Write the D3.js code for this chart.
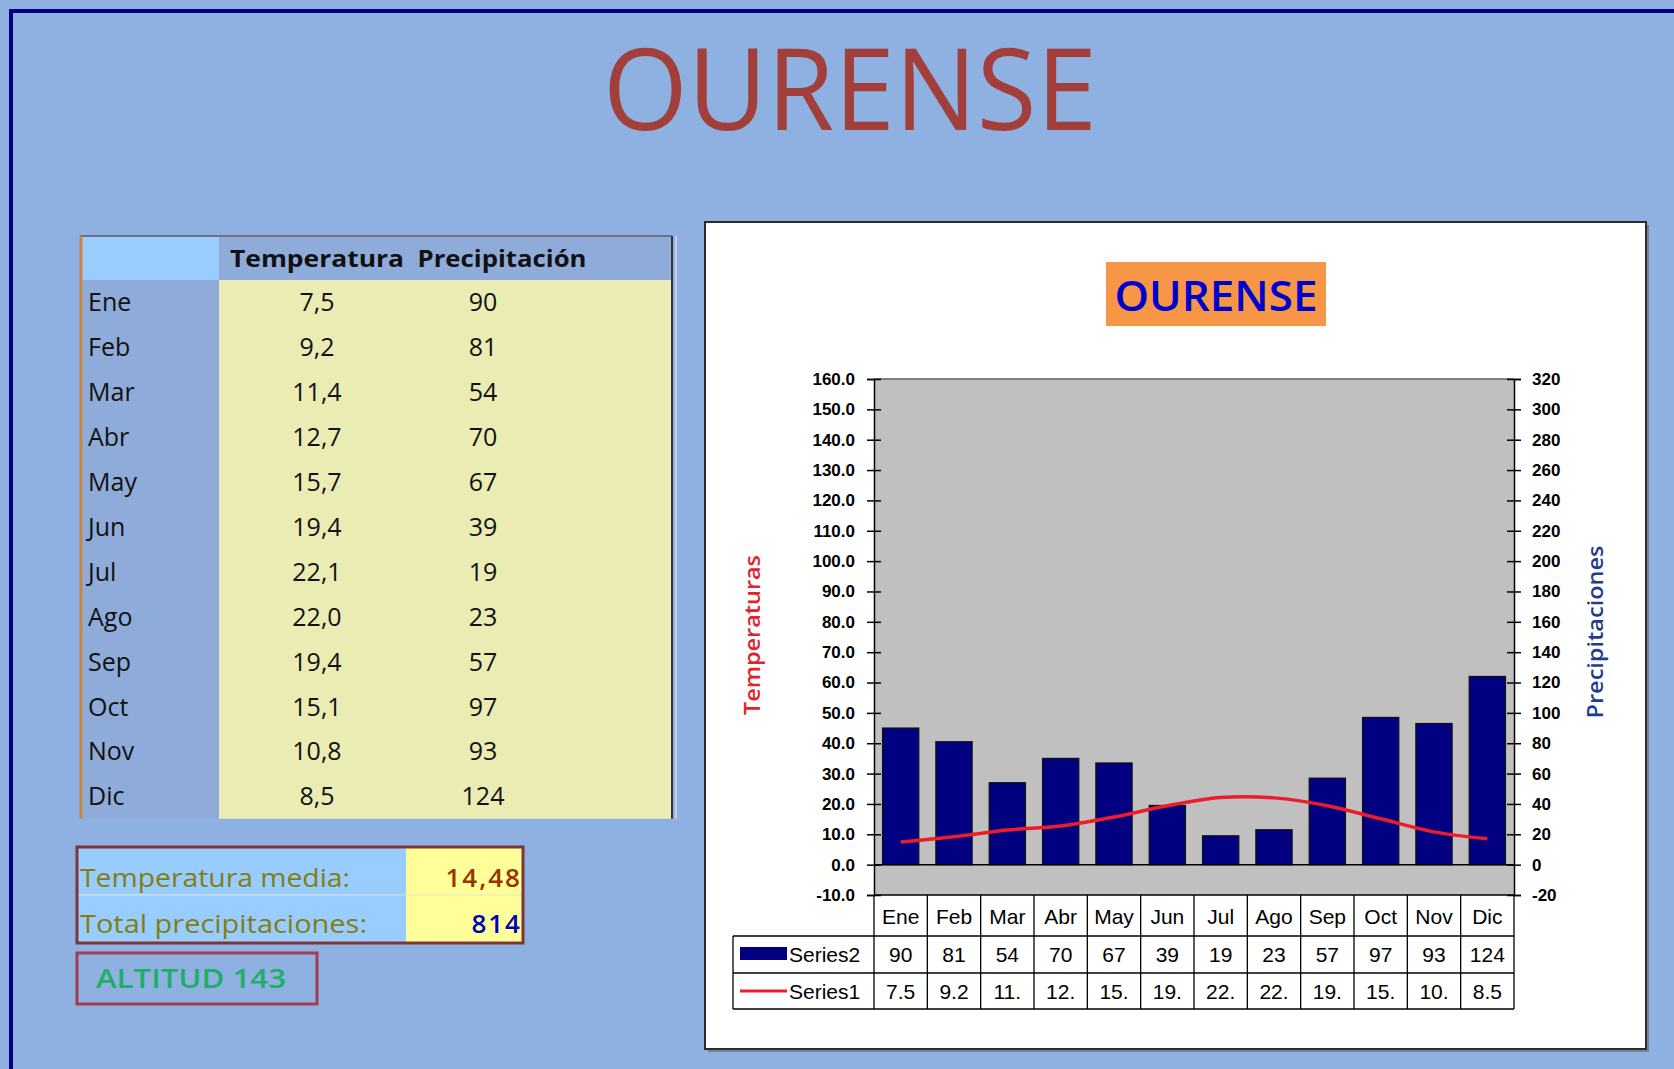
<!DOCTYPE html>
<html>
<head>
<meta charset="utf-8">
<script src="https://cdn.jsdelivr.net/npm/d3@7"></script>
<style>
  body { margin: 0; background: #8eb1e1; }
  svg { display: block; }
</style>
</head>
<body>
<svg id="chart" width="1674" height="1069"></svg>
<script>
// datos climáticos de Ourense
const ciudad = 'OURENSE';
const months = ['Ene', 'Feb', 'Mar', 'Abr', 'May', 'Jun', 'Jul', 'Ago', 'Sep', 'Oct', 'Nov', 'Dic'];
const temperaturas = [7.5, 9.2, 11.4, 12.7, 15.7, 19.4, 22.1, 22.0, 19.4, 15.1, 10.8, 8.5];
const precipitaciones = [90, 81, 54, 70, 67, 39, 19, 23, 57, 97, 93, 124];
const tempTicks = [-10, 0, 10, 20, 30, 40, 50, 60, 70, 80, 90, 100, 110, 120, 130, 140, 150, 160];
const precTicks = [-20, 0, 20, 40, 60, 80, 100, 120, 140, 160, 180, 200, 220, 240, 260, 280, 300, 320];
const altitud = 143;

const comic = '"Open Sans", "Noto Sans", sans-serif';
const arial = '"Liberation Sans", Arial, sans-serif';

class ClimateSheet {

    constructor(svg) {
        this.svg = svg;
    }

    drawPage() {
        this.svg.append('rect')
            .attr('width', 1674).attr('height', 1069)
            .attr('fill', '#8eb1e1');

        this.svg.append('path')
            .attr('d', 'M11,1069 V11 H1674')
            .attr('fill', 'none')
            .attr('stroke', '#000080')
            .attr('stroke-width', 4);

        this.svg.append('text')
            .text(ciudad)
            .attr('x', 850).attr('y', 130)
            .attr('text-anchor', 'middle')
            .attr('font-family', comic)
            .attr('font-size', 114)
            .attr('textLength', 494)
            .attr('lengthAdjust', 'spacingAndGlyphs')
            .attr('fill', '#a23f3a');
    }

    drawTable() {
        let g = this.svg.append('g');
        let x0 = 80, xMonth = 219, x1 = 672;
        let yTop = 236, yHead = 280, rowH = 44.9;
        let yRow = d3.scaleBand().domain(months).range([yHead, yHead + rowH * months.length]);

        g.append('rect').attr('x', x0).attr('y', yTop).attr('width', xMonth - x0).attr('height', yHead - yTop).attr('fill', '#99ccff');
        g.append('rect').attr('x', xMonth).attr('y', yTop).attr('width', x1 - xMonth).attr('height', yHead - yTop).attr('fill', '#8eabd9');
        g.append('rect').attr('x', x0).attr('y', yHead).attr('width', xMonth - x0).attr('height', yRow.range()[1] - yHead).attr('fill', '#8eabd9');
        g.append('rect').attr('x', xMonth).attr('y', yHead).attr('width', x1 - xMonth).attr('height', yRow.range()[1] - yHead).attr('fill', '#ebebb4');

        g.append('line').attr('x1', x0).attr('x2', x1).attr('y1', yTop).attr('y2', yTop).attr('stroke', '#6d7280').attr('stroke-width', 2);
        g.append('line').attr('x1', x0 + 1).attr('x2', x0 + 1).attr('y1', yTop).attr('y2', yRow.range()[1]).attr('stroke', '#c8873c').attr('stroke-width', 3);
        g.append('line').attr('x1', x1).attr('x2', x1).attr('y1', yTop).attr('y2', yRow.range()[1]).attr('stroke', '#333').attr('stroke-width', 2);
        g.append('line').attr('x1', x1 + 4).attr('x2', x1 + 4).attr('y1', yTop).attr('y2', yRow.range()[1]).attr('stroke', '#d8dce4').attr('stroke-width', 1.5);

        g.append('text').text('Temperatura')
            .attr('x', 317).attr('y', 267).attr('text-anchor', 'middle')
            .attr('font-family', comic).attr('font-weight', 'bold').attr('font-size', 24)
            .attr('textLength', 174).attr('lengthAdjust', 'spacingAndGlyphs').attr('fill', '#111');
        g.append('text').text('Precipitación')
            .attr('x', 502).attr('y', 267).attr('text-anchor', 'middle')
            .attr('font-family', comic).attr('font-weight', 'bold').attr('font-size', 24)
            .attr('textLength', 169).attr('lengthAdjust', 'spacingAndGlyphs').attr('fill', '#111');

        let rows = g.selectAll('.row').data(months).enter().append('g')
            .attr('transform', d => `translate(0,${yRow(d) + yRow.bandwidth() / 2 + 9})`);
        rows.append('text').text(d => d)
            .attr('x', 88)
            .attr('font-family', comic).attr('font-size', 25).attr('font-weight', 500).attr('fill', '#111');
        rows.append('text').text((d, i) => temperaturas[i].toFixed(1).replace('.', ','))
            .attr('x', 317).attr('text-anchor', 'middle')
            .attr('font-family', comic).attr('font-size', 25).attr('font-weight', 500).attr('fill', '#111');
        rows.append('text').text((d, i) => precipitaciones[i])
            .attr('x', 483).attr('text-anchor', 'middle')
            .attr('font-family', comic).attr('font-size', 25).attr('font-weight', 500).attr('fill', '#111');
    }

    drawSummary() {
        let g = this.svg.append('g');
        let media = d3.mean(temperaturas);
        let total = d3.sum(precipitaciones);

        g.append('rect').attr('x', 77).attr('y', 847).attr('width', 329).attr('height', 96).attr('fill', '#99ccff');
        g.append('rect').attr('x', 406).attr('y', 847).attr('width', 117).attr('height', 96).attr('fill', '#ffff99');
        g.append('line').attr('x1', 77).attr('x2', 523).attr('y1', 895).attr('y2', 895).attr('stroke', '#e6e6c8').attr('stroke-width', 1);
        g.append('rect').attr('x', 77).attr('y', 847).attr('width', 446).attr('height', 96)
            .attr('fill', 'none').attr('stroke', '#7f3535').attr('stroke-width', 3);

        g.append('text').text('Temperatura media:')
            .attr('x', 80).attr('y', 887)
            .attr('font-family', comic).attr('font-size', 26).attr('font-weight', 500)
            .attr('textLength', 270).attr('lengthAdjust', 'spacingAndGlyphs').attr('fill', '#7f7f12');
        g.append('text').text('Total precipitaciones:')
            .attr('x', 80).attr('y', 933)
            .attr('font-family', comic).attr('font-size', 26).attr('font-weight', 500)
            .attr('textLength', 287).attr('lengthAdjust', 'spacingAndGlyphs').attr('fill', '#7f7f12');
        g.append('text').text(media.toFixed(2).replace('.', ','))
            .attr('x', 522).attr('y', 887).attr('text-anchor', 'end')
            .attr('font-family', comic).attr('font-size', 26).attr('font-weight', 600).attr('letter-spacing', 2).attr('fill', '#993300');
        g.append('text').text(total)
            .attr('x', 522).attr('y', 933).attr('text-anchor', 'end')
            .attr('font-family', comic).attr('font-size', 26).attr('font-weight', 600).attr('letter-spacing', 2).attr('fill', '#0000bb');

        g.append('rect').attr('x', 77).attr('y', 953).attr('width', 240).attr('height', 51)
            .attr('fill', 'none').attr('stroke', '#a23c50').attr('stroke-width', 3);
        g.append('text').text('ALTITUD ' + altitud)
            .attr('x', 96).attr('y', 988)
            .attr('font-family', comic).attr('font-size', 27).attr('font-weight', 600)
            .attr('textLength', 190).attr('lengthAdjust', 'spacingAndGlyphs').attr('fill', '#1fae6a');
    }

    drawChart() {
        let svg = this.svg;
        let left = 874, right = 1514, top = 379, bottom = 895;

        svg.append('rect').attr('x', 708).attr('y', 225).attr('width', 941).attr('height', 827).attr('fill', '#555').attr('opacity', 0.5);
        svg.append('rect').attr('x', 705).attr('y', 222).attr('width', 941).attr('height', 827)
            .attr('fill', '#ffffff').attr('stroke', '#2b2b2b').attr('stroke-width', 2);

        svg.append('rect').attr('x', 1106).attr('y', 262).attr('width', 220).attr('height', 64).attr('fill', '#f79646');
        svg.append('text').text(ciudad)
            .attr('x', 1216).attr('y', 311).attr('text-anchor', 'middle')
            .attr('font-family', comic).attr('font-size', 42).attr('font-weight', 600)
            .attr('textLength', 203).attr('lengthAdjust', 'spacingAndGlyphs').attr('fill', '#0000cc');

        let x = d3.scaleBand().domain(months).range([left, right]).paddingInner(0.32).paddingOuter(0.16);
        let xCell = d3.scaleBand().domain(months).range([left, right]);
        let yT = d3.scaleLinear().domain([-10, 160]).range([bottom, top]);
        let yP = d3.scaleLinear().domain([-20, 320]).range([bottom, top]);

        svg.append('rect').attr('x', left).attr('y', top).attr('width', right - left).attr('height', bottom - top).attr('fill', '#c0c0c0');
        svg.append('line').attr('x1', left).attr('x2', right).attr('y1', top).attr('y2', top).attr('stroke', '#808080').attr('stroke-width', 2);

        svg.append('g').selectAll('rect').data(precipitaciones).enter().append('rect')
            .attr('x', (d, i) => x(months[i]))
            .attr('width', x.bandwidth())
            .attr('y', d => yP(d))
            .attr('height', d => yP(0) - yP(d))
            .attr('fill', '#000080')
            .attr('stroke', '#111')
            .attr('stroke-width', 1.2);

        svg.append('line').attr('x1', left).attr('x2', right).attr('y1', yT(0)).attr('y2', yT(0)).attr('stroke', '#000').attr('stroke-width', 1.5);

        let line = d3.line()
            .x((d, i) => x(months[i]) + x.bandwidth() / 2)
            .y(d => yT(d))
            .curve(d3.curveCatmullRom.alpha(0.5));
        svg.append('path').datum(temperaturas)
            .attr('d', line)
            .attr('fill', 'none')
            .attr('stroke', '#ee1c2a')
            .attr('stroke-width', 3.5);

        // excel style hyphen instead of unicode minus
        let fmtT = d => d3.format('.1f')(d).replace('\u2212', '-');
        let fmtP = d => d3.format('d')(d).replace('\u2212', '-');

        let axisL = svg.append('g').attr('transform', `translate(${left},0)`)
            .call(d3.axisLeft(yT).tickValues(tempTicks).tickFormat(fmtT).tickSize(7).tickPadding(12));
        let axisR = svg.append('g').attr('transform', `translate(${right},0)`)
            .call(d3.axisRight(yP).tickValues(precTicks).tickFormat(fmtP).tickSize(7).tickPadding(11));
        [axisL, axisR].forEach(a => {
            a.select('.domain').attr('stroke', '#000').attr('stroke-width', 1.5);
            a.selectAll('.tick line').attr('x1', -7).attr('x2', 7).attr('stroke', '#000').attr('stroke-width', 1.5);
            a.selectAll('.tick text')
                .attr('font-family', arial).attr('font-size', 17).attr('font-weight', 'bold').attr('fill', '#000');
        });

        svg.append('text').text('Temperaturas')
            .attr('transform', 'translate(760,635) rotate(-90)')
            .attr('text-anchor', 'middle')
            .attr('font-family', comic).attr('font-size', 22).attr('font-weight', 600)
            .attr('textLength', 160).attr('lengthAdjust', 'spacingAndGlyphs').attr('fill', '#e3232b');
        svg.append('text').text('Precipitaciones')
            .attr('transform', 'translate(1603,632) rotate(-90)')
            .attr('text-anchor', 'middle')
            .attr('font-family', comic).attr('font-size', 22).attr('font-weight', 600)
            .attr('textLength', 173).attr('lengthAdjust', 'spacingAndGlyphs').attr('fill', '#1f3d8c');

        // data table under the plot
        let t = svg.append('g');
        let rowY = [895, 936, 973, 1009];
        let keyLeft = 733;

        t.append('line').attr('x1', left).attr('x2', right).attr('y1', rowY[0]).attr('y2', rowY[0]).attr('stroke', '#000').attr('stroke-width', 1.5);
        rowY.slice(1).forEach(y => {
            t.append('line').attr('x1', keyLeft).attr('x2', right).attr('y1', y).attr('y2', y).attr('stroke', '#000').attr('stroke-width', 1.3);
        });
        t.append('line').attr('x1', keyLeft).attr('x2', keyLeft).attr('y1', rowY[1]).attr('y2', rowY[3]).attr('stroke', '#000').attr('stroke-width', 1.3);
        t.selectAll('.vline').data(months.concat(['end'])).enter().append('line')
            .attr('x1', d => d === 'end' ? right : xCell(d))
            .attr('x2', d => d === 'end' ? right : xCell(d))
            .attr('y1', rowY[0]).attr('y2', rowY[3])
            .attr('stroke', '#000').attr('stroke-width', 1.3);

        let cx = d => xCell(d) + xCell.bandwidth() / 2;
        let cellText = (sel) => sel.attr('text-anchor', 'middle').attr('font-family', arial).attr('font-size', 21).attr('fill', '#000');

        t.selectAll('.m').data(months).enter().append('text').text(d => d)
            .attr('x', cx).attr('y', 924).call(cellText);
        t.selectAll('.p').data(precipitaciones).enter().append('text').text(d => d)
            .attr('x', (d, i) => cx(months[i])).attr('y', 962).call(cellText);
        t.selectAll('.tt').data(temperaturas).enter().append('text').text(d => d.toFixed(1).slice(0, 3))
            .attr('x', (d, i) => cx(months[i])).attr('y', 999).call(cellText);

        t.append('rect').attr('x', 740).attr('y', 947).attr('width', 47).attr('height', 13).attr('fill', '#000080');
        t.append('line').attr('x1', 740).attr('x2', 787).attr('y1', 991).attr('y2', 991).attr('stroke', '#ee1c2a').attr('stroke-width', 3);
        t.append('text').text('Series2').attr('x', 789).attr('y', 962)
            .attr('font-family', arial).attr('font-size', 21).attr('fill', '#000');
        t.append('text').text('Series1').attr('x', 789).attr('y', 999)
            .attr('font-family', arial).attr('font-size', 21).attr('fill', '#000');
    }
}

let sheet = new ClimateSheet(d3.select('#chart'));
sheet.drawPage();
sheet.drawTable();
sheet.drawSummary();
sheet.drawChart();
</script>
</body>
</html>
